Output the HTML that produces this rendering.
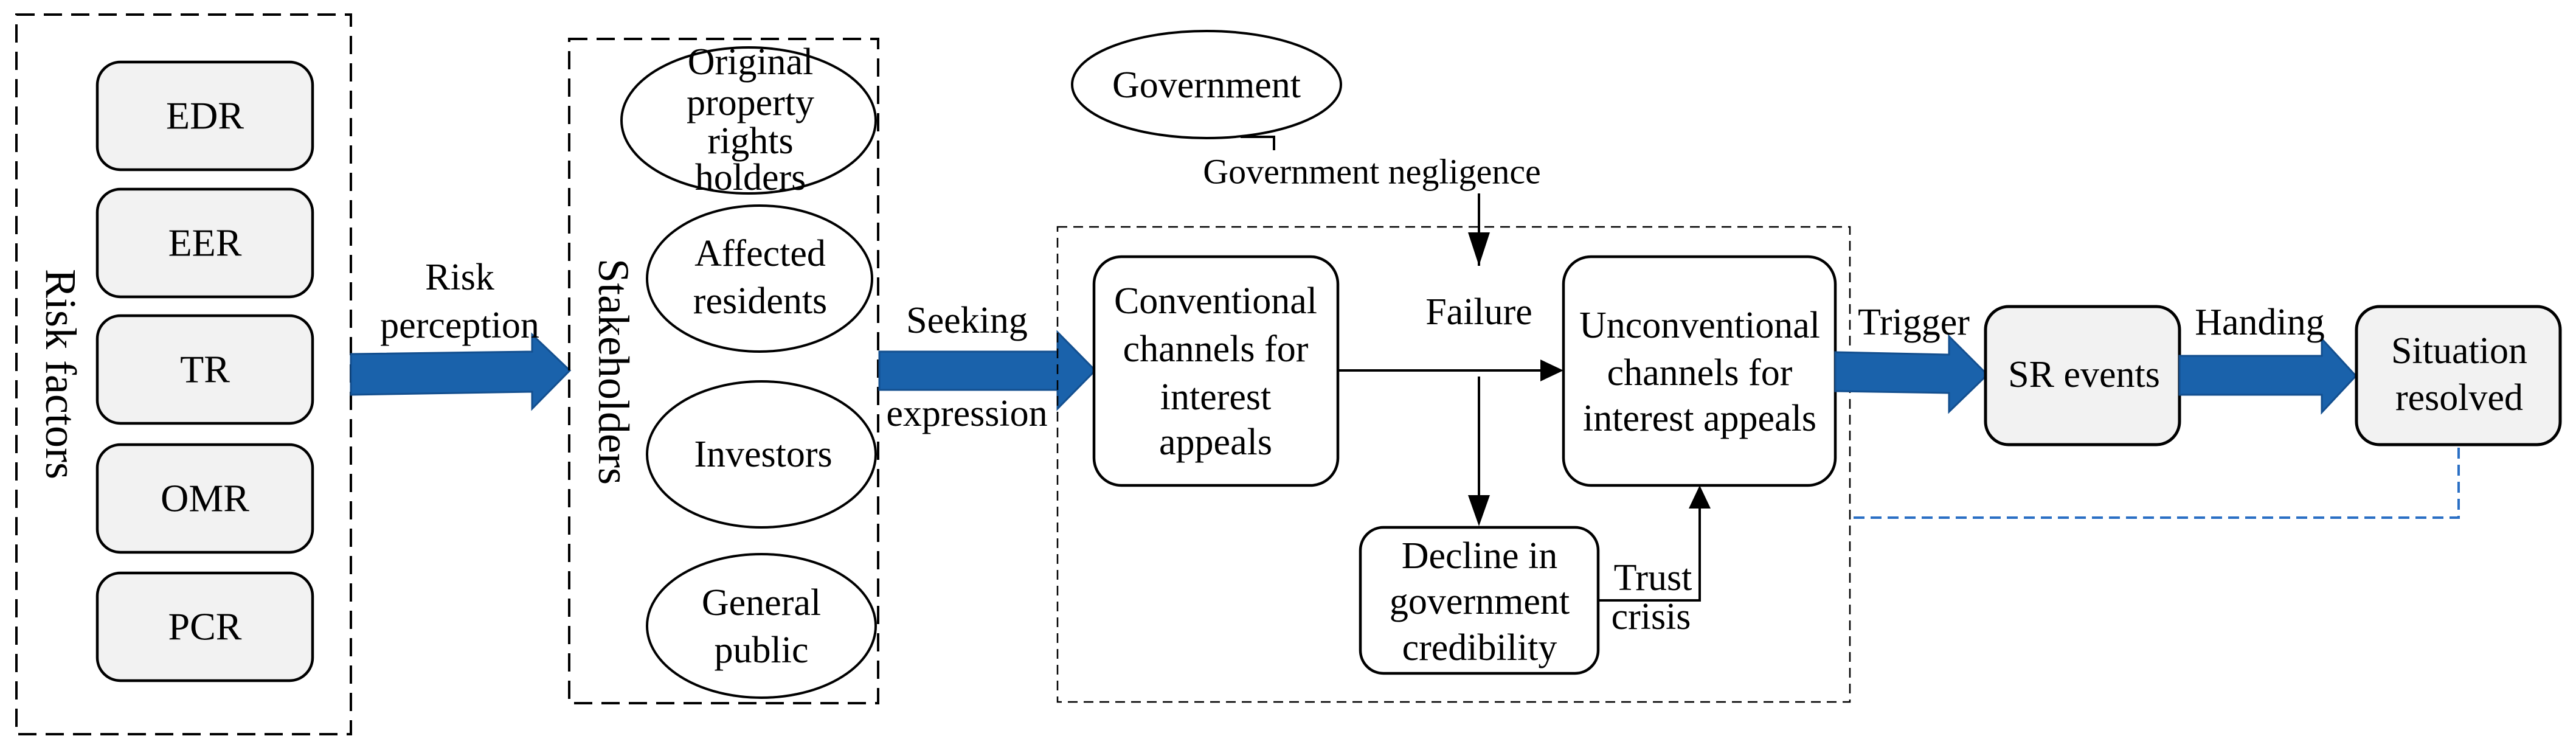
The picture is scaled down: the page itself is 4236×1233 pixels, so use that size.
<!DOCTYPE html>
<html><head><meta charset="utf-8"><style>
html,body{margin:0;padding:0;background:#fff;}
svg{display:block;}
svg, svg text{font-family:"Liberation Serif","Times New Roman","DejaVu Serif",serif !important;fill:#000;}
</style></head><body>
<svg width="4236" height="1233" viewBox="0 0 4236 1233" xmlns="http://www.w3.org/2000/svg" font-family="'Liberation Serif', 'Times New Roman', serif">

<!-- Risk factors -->
<rect x="27" y="24" width="550" height="1183" fill="none" stroke="#000" stroke-width="4" stroke-dasharray="30,15"/>
<text transform="translate(100,615) rotate(90)" font-size="72" text-anchor="middle" dominant-baseline="central">Risk factors</text>
<g fill="#f2f2f2" stroke="#000" stroke-width="4.5">
<rect x="160" y="102" width="354" height="177" rx="38"/>
<rect x="160" y="311" width="354" height="177" rx="38"/>
<rect x="160" y="519" width="354" height="177" rx="38"/>
<rect x="160" y="731" width="354" height="177" rx="38"/>
<rect x="160" y="942" width="354" height="177" rx="38"/>
</g>
<g font-size="64" text-anchor="middle" dominant-baseline="central">
<text x="337" y="190">EDR</text>
<text x="337" y="399">EER</text>
<text x="337" y="607">TR</text>
<text x="337" y="819">OMR</text>
<text x="337" y="1030">PCR</text>
</g>

<!-- Risk perception arrow -->
<path d="M577,582 L875,578 L875,550 L937,609 L875,672 L875,644 L577,649 z" fill="#1a62ab" stroke="#134f8f" stroke-width="3"/>
<g font-size="62" text-anchor="middle" dominant-baseline="central">
<text x="756" y="456">Risk</text>
<text x="756" y="535">perception</text>
</g>

<!-- Stakeholders -->
<rect x="936" y="64" width="508" height="1092" fill="none" stroke="#000" stroke-width="4" stroke-dasharray="30,15"/>
<text transform="translate(1009,611) rotate(90)" font-size="72" text-anchor="middle" dominant-baseline="central">Stakeholders</text>
<g fill="#fff" stroke="#000" stroke-width="4">
<ellipse cx="1231" cy="198" rx="209" ry="120"/>
<ellipse cx="1249" cy="458" rx="185" ry="120"/>
<ellipse cx="1252" cy="747" rx="188" ry="120"/>
<ellipse cx="1252" cy="1029" rx="188" ry="118"/>
</g>
<g font-size="62" text-anchor="middle" dominant-baseline="central">
<text x="1234" y="102">Original</text>
<text x="1234" y="169">property</text>
<text x="1234" y="232">rights</text>
<text x="1234" y="292">holders</text>
<text x="1250" y="417">Affected</text>
<text x="1250" y="495">residents</text>
<text x="1255" y="747">Investors</text>
<text x="1252" y="991">General</text>
<text x="1252" y="1069">public</text>
</g>

<!-- Seeking expression arrow -->
<path d="M1446,578 L1739,578 L1739,546 L1801,609 L1739,672 L1739,641 L1446,641 z" fill="#1a62ab" stroke="#134f8f" stroke-width="3"/>
<g font-size="62" text-anchor="middle" dominant-baseline="central">
<text x="1590" y="527">Seeking</text>
<text x="1590" y="680">expression</text>
</g>

<!-- Government -->
<ellipse cx="1984" cy="139" rx="221" ry="88" fill="#fff" stroke="#000" stroke-width="4"/>
<text x="1984" y="140" font-size="62" text-anchor="middle" dominant-baseline="central">Government</text>
<path d="M2040,225 L2095,225 L2095,247" fill="none" stroke="#000" stroke-width="4"/>
<text x="2256" y="282" font-size="58" text-anchor="middle" dominant-baseline="central">Government negligence</text>
<line x1="2432" y1="318" x2="2432" y2="437" stroke="#000" stroke-width="4"/>
<path d="M2414,382 L2450,382 L2432,437 z" fill="#000"/>

<!-- Inner dashed box -->
<rect x="1739" y="373" width="1303" height="781" fill="none" stroke="#000" stroke-width="2.5" stroke-dasharray="16,10"/>

<!-- Conventional -->
<rect x="1799" y="422" width="401" height="376" rx="45" fill="#fff" stroke="#000" stroke-width="4.5"/>
<g font-size="62" text-anchor="middle" dominant-baseline="central">
<text x="1999" y="495">Conventional</text>
<text x="1999" y="574">channels for</text>
<text x="1999" y="653">interest</text>
<text x="1999" y="727">appeals</text>
</g>

<text x="2432" y="513" font-size="62" text-anchor="middle" dominant-baseline="central">Failure</text>
<line x1="2200" y1="609" x2="2535" y2="609" stroke="#000" stroke-width="4"/>
<path d="M2533,591 L2571,609 L2533,627 z" fill="#000"/>
<line x1="2432" y1="619" x2="2432" y2="820" stroke="#000" stroke-width="4"/>
<path d="M2414,814 L2450,814 L2432,865 z" fill="#000"/>

<!-- Unconventional -->
<rect x="2571" y="422" width="447" height="376" rx="45" fill="#fff" stroke="#000" stroke-width="4.5"/>
<g font-size="62" text-anchor="middle" dominant-baseline="central">
<text x="2795" y="535">Unconventional</text>
<text x="2795" y="613">channels for</text>
<text x="2795" y="688">interest appeals</text>
</g>

<!-- Decline -->
<rect x="2237" y="867" width="391" height="240" rx="38" fill="#fff" stroke="#000" stroke-width="4.5"/>
<g font-size="62" text-anchor="middle" dominant-baseline="central">
<text x="2433" y="914">Decline in</text>
<text x="2433" y="989">government</text>
<text x="2433" y="1065">credibility</text>
</g>
<path d="M2628,987 L2795,987 L2795,836" fill="none" stroke="#000" stroke-width="4"/>
<path d="M2777,836 L2813,836 L2795,798 z" fill="#000"/>
<g font-size="62" text-anchor="middle" dominant-baseline="central">
<text x="2718" y="950">Trust</text>
<text x="2715" y="1014">crisis</text>
</g>

<!-- Trigger arrow -->
<path d="M3018,579 L3205,583 L3205,553 L3268,616 L3205,677 L3205,646 L3018,643 z" fill="#1a62ab" stroke="#134f8f" stroke-width="3"/>
<text x="3147" y="530" font-size="62" text-anchor="middle" dominant-baseline="central">Trigger</text>

<!-- SR events -->
<rect x="3265" y="504" width="319" height="227" rx="38" fill="#f2f2f2" stroke="#000" stroke-width="5"/>
<text x="3427" y="616" font-size="62" text-anchor="middle" dominant-baseline="central">SR events</text>

<!-- Handing arrow -->
<path d="M3584,585 L3818,585 L3818,557 L3874,618 L3818,678 L3818,649 L3584,649 z" fill="#1a62ab" stroke="#134f8f" stroke-width="3"/>
<text x="3716" y="530" font-size="62" text-anchor="middle" dominant-baseline="central">Handing</text>

<!-- Situation resolved -->
<rect x="3875" y="504" width="335" height="227" rx="38" fill="#f2f2f2" stroke="#000" stroke-width="5"/>
<g font-size="62" text-anchor="middle" dominant-baseline="central">
<text x="4044" y="577">Situation</text>
<text x="4044" y="654">resolved</text>
</g>

<!-- Blue dashed feedback -->
<path d="M4043,736 L4043,851 L3041,851" fill="none" stroke="#2a6fc4" stroke-width="4" stroke-dasharray="18,10"/>
</svg>
</body></html>
